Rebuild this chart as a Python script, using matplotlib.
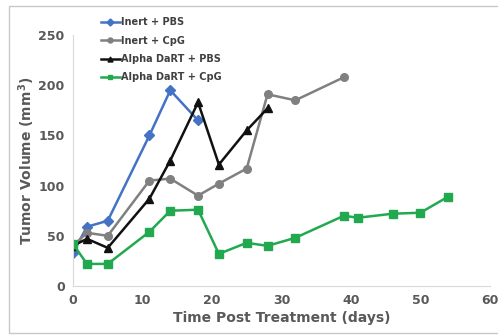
import matplotlib
matplotlib.use("Agg")
import matplotlib.pyplot as plt
from matplotlib.patches import Rectangle

# Tumor volume (mm^3) vs days post treatment
inert_pbs_days = [0, 2, 5, 11, 14, 18]
inert_pbs_vol = [33, 59, 65, 150, 195, 165]

inert_cpg_days = [0, 2, 5, 11, 14, 18, 21, 25, 28, 32, 39]
inert_cpg_vol = [40, 53, 50, 105, 107, 90, 102, 117, 191, 185, 208]

dart_pbs_days = [0, 2, 5, 11, 14, 18, 21, 25, 28]
dart_pbs_vol = [40, 47, 38, 87, 125, 183, 121, 155, 177]

dart_cpg_days = [0, 2, 5, 11, 14, 18, 21, 25, 28, 32, 39, 41, 46, 50, 54]
dart_cpg_vol = [42, 22, 22, 54, 75, 76, 32, 43, 40, 48, 70, 68, 72, 73, 89]

TXT = "#595959"

fig = plt.figure(figsize=(4.98, 3.35), dpi=100)
ax = fig.add_axes([0.1466, 0.1463, 0.837, 0.749])

ax.plot(inert_pbs_days, inert_pbs_vol, color="#4472c4", marker="D", ms=5.5,
        lw=1.8, label="Inert + PBS")
ax.plot(inert_cpg_days, inert_cpg_vol, color="#808080", marker="o", ms=5.5,
        lw=1.8, label="Inert + CpG")
ax.plot(dart_pbs_days, dart_pbs_vol, color="#111111", marker="^", ms=5.5,
        lw=1.8, label="Alpha DaRT + PBS")
ax.plot(dart_cpg_days, dart_cpg_vol, color="#22a94f", marker="s", ms=5.5,
        lw=1.8, label="Alpha DaRT + CpG")

ax.set_xlim(0, 60)
ax.set_ylim(0, 250)
ax.set_xticks(range(0, 61, 10))
ax.set_yticks(range(0, 251, 50))
for s in ["top", "right"]:
    ax.spines[s].set_visible(False)
for s in ["left", "bottom"]:
    ax.spines[s].set_color("#d9d9d9")
ax.tick_params(length=0, labelsize=9, labelcolor=TXT, pad=6)
for lbl in ax.get_xticklabels() + ax.get_yticklabels():
    lbl.set_fontweight("bold")

ax.set_xlabel("Time Post Treatment (days)", fontsize=10, fontweight="bold",
              color=TXT, labelpad=3)
ax.set_ylabel("Tumor Volume (mm$^\\mathbf{3}$)", fontsize=10, fontweight="bold",
              color=TXT, labelpad=1)

leg = ax.legend(loc="upper left", bbox_to_anchor=(0.045, 1.105), frameon=False,
                fontsize=7, handlelength=2.0, handletextpad=0.1,
                labelspacing=0.85, markerscale=0.65)
for t in leg.get_texts():
    t.set_color("#404040")
    t.set_fontweight("bold")

fig.patches.append(Rectangle((9 / 498, 1 - 333 / 335), 1.0, 327 / 335,
                             transform=fig.transFigure, fill=False,
                             edgecolor="#c8c8c8", lw=1))

fig.savefig("out.png")
